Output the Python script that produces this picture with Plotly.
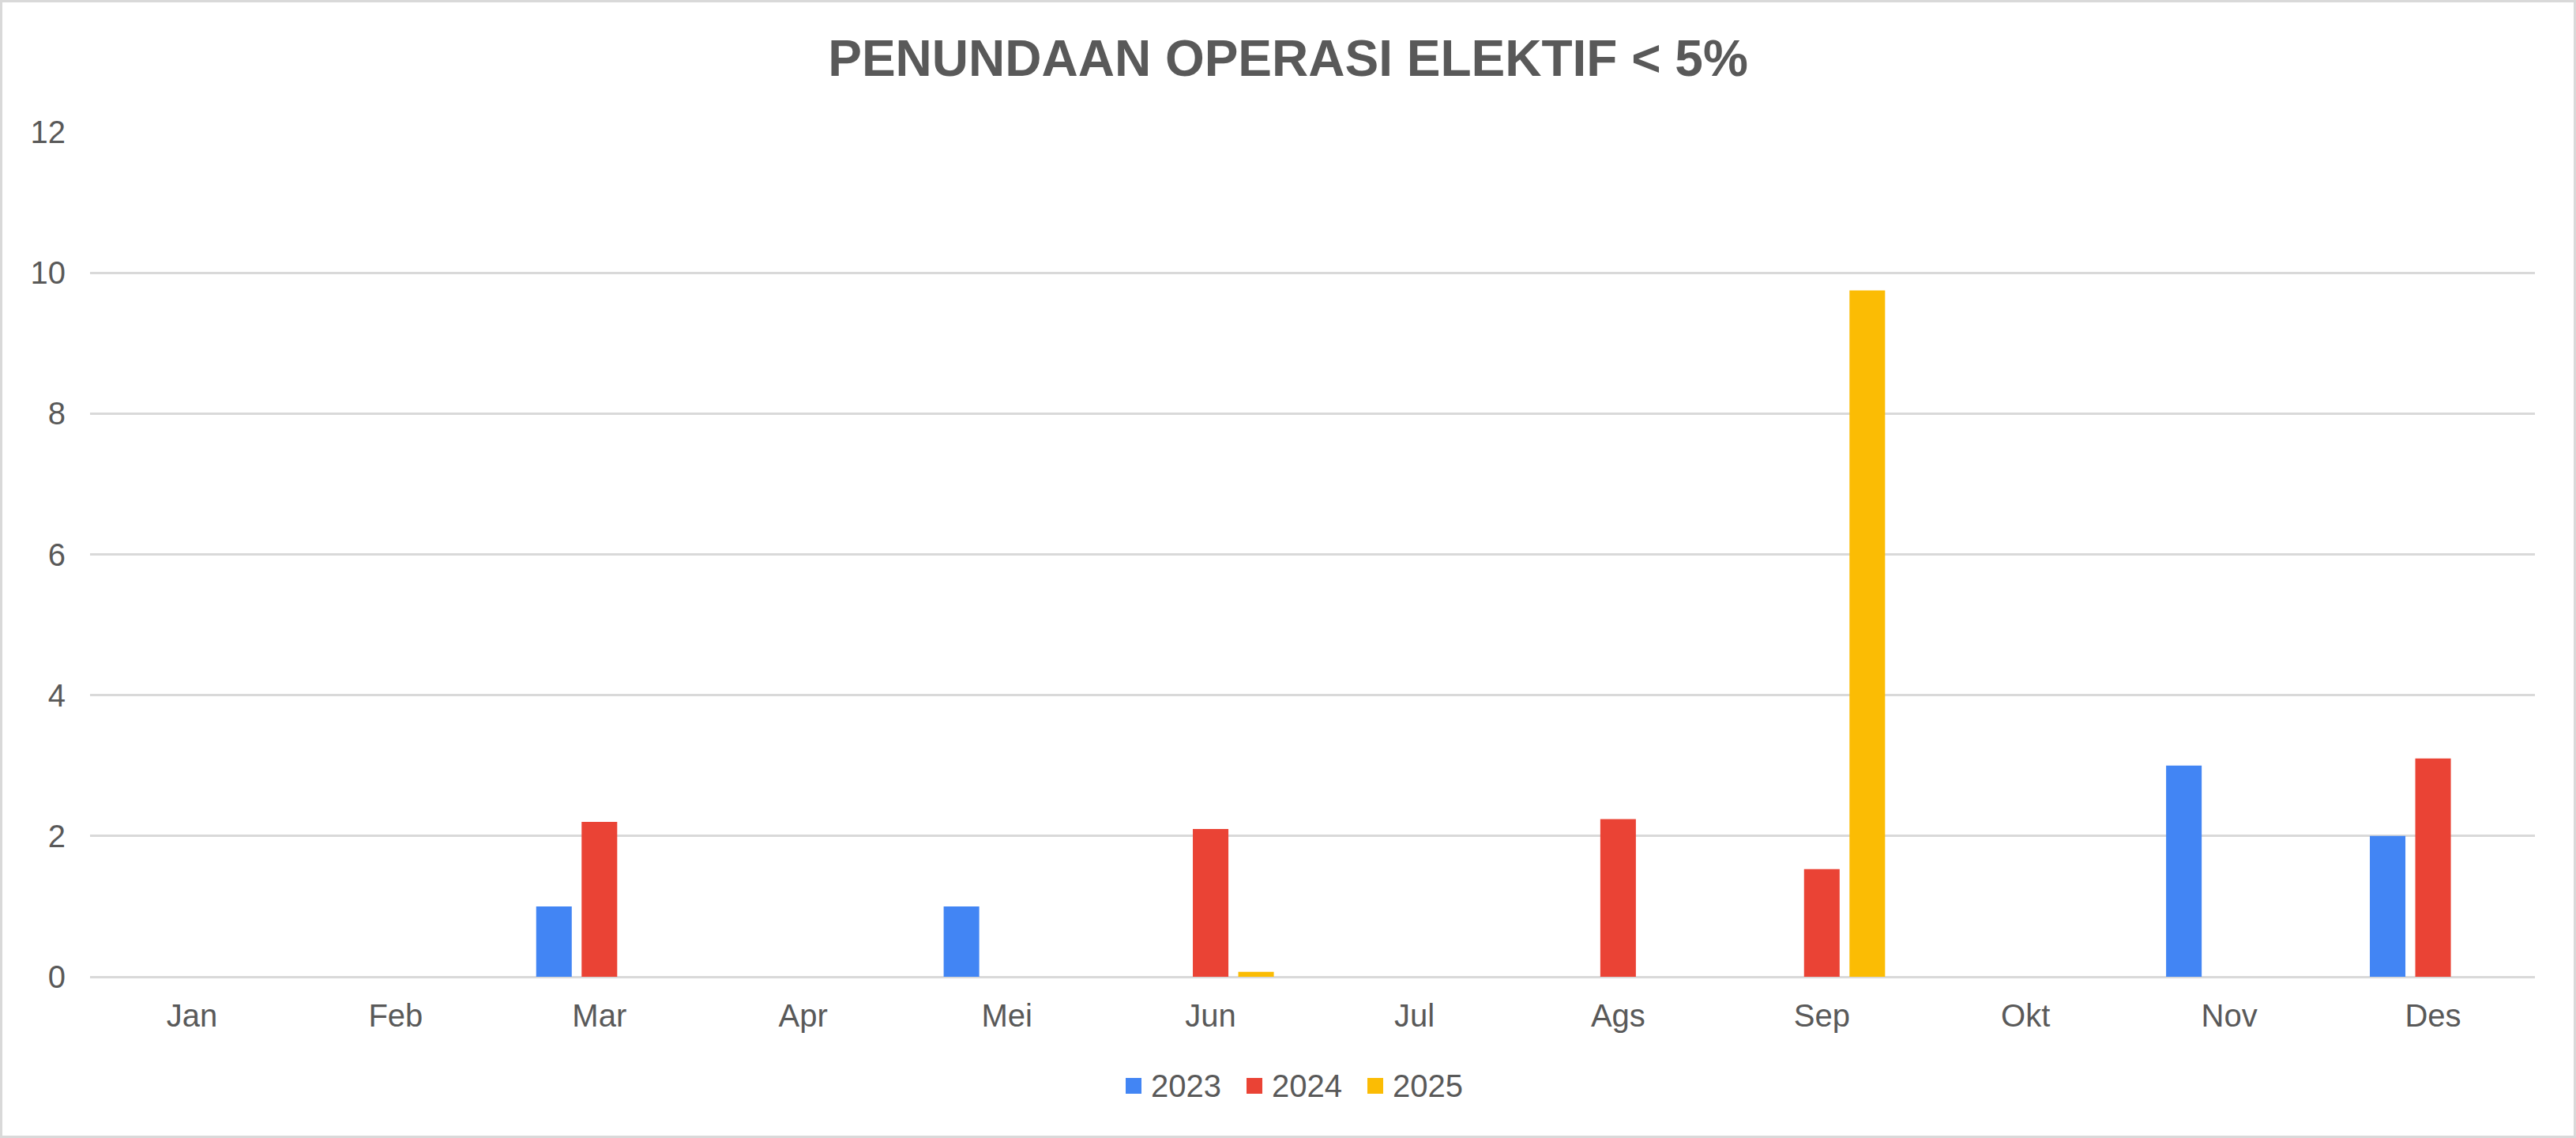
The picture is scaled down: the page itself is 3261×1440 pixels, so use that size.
import plotly.graph_objects as go

# data
months = ["Jan", "Feb", "Mar", "Apr", "Mei", "Jun", "Jul", "Ags", "Sep", "Okt", "Nov", "Des"]
years = ["2023", "2024", "2025"]
val_2023 = [None, None, 1, None, 1, None, None, None, None, None, 3, 2]
val_2024 = [None, None, 2.2, None, None, 2.1, None, 2.24, 1.53, None, None, 3.1]
val_2025 = [None, None, None, None, None, 0.07, None, None, 9.75, None, None, None]
colors = ["#4285F4", "#EA4335", "#FBBC04"]

W, H = 3261, 1440
ML, MR, MT, MB = 114, 52, 167, 204
FONT = "Liberation Sans, Arial, sans-serif"
GREY = "#595959"

fig = go.Figure()
for name, vals, col in zip(years, [val_2023, val_2024, val_2025], colors):
    fig.add_trace(go.Bar(x=months, y=vals, name=name, marker_color=col,
                         marker_line_width=0, showlegend=False))

fig.update_layout(
    width=W, height=H,
    margin=dict(l=ML, r=MR, t=MT, b=MB),
    paper_bgcolor="white", plot_bgcolor="white",
    barmode="group", bargap=0.331, bargroupgap=0.217,
    font=dict(family=FONT, size=40, color=GREY),
    title=dict(text="<b>PENUNDAAN OPERASI ELEKTIF < 5%</b>",
               font=dict(family=FONT, size=64, color=GREY),
               x=0.5, xanchor="center", xref="container",
               y=1 - 74 / H, yanchor="middle", yref="container"),
)
fig.update_yaxes(range=[0, 12], dtick=2, showgrid=True, gridcolor="#D9D9D9",
                 gridwidth=3, zeroline=True, zerolinecolor="#D9D9D9",
                 zerolinewidth=3, showline=False, ticks="",
                 ticklabelstandoff=30, fixedrange=True)
fig.update_xaxes(showgrid=False, showline=False, ticks="",
                 ticklabelstandoff=22, fixedrange=True)

# legend drawn by hand so the swatches can match the reference size
pw, ph = W - ML - MR, H - MT - MB
swatch_x = [1425, 1578, 1731]
leg_y = 1374
for name, col, sx in zip(years, colors, swatch_x):
    fig.add_shape(type="rect", xref="paper", yref="paper",
                  x0=(sx - ML) / pw, x1=(sx + 20 - ML) / pw,
                  y0=(H - MB - (leg_y + 10)) / ph, y1=(H - MB - (leg_y - 10)) / ph,
                  fillcolor=col, line_width=0)
    fig.add_annotation(text=name, xref="paper", yref="paper",
                       x=(sx + 30 - ML) / pw, y=(H - MB - leg_y) / ph,
                       xanchor="left", yanchor="middle", showarrow=False,
                       font=dict(family=FONT, size=40, color=GREY))

# thin grey frame around the chart
fig.add_shape(type="rect", xref="paper", yref="paper",
              x0=-(ML - 1.5) / pw, x1=1 + (MR - 1.5) / pw,
              y0=-(MB - 1.5) / ph, y1=1 + (MT - 1.5) / ph,
              line=dict(color="#D9D9D9", width=3), fillcolor="rgba(0,0,0,0)")

fig.write_html("out.html", config={"displayModeBar": False},
               post_script="document.body.style.margin='0';")
